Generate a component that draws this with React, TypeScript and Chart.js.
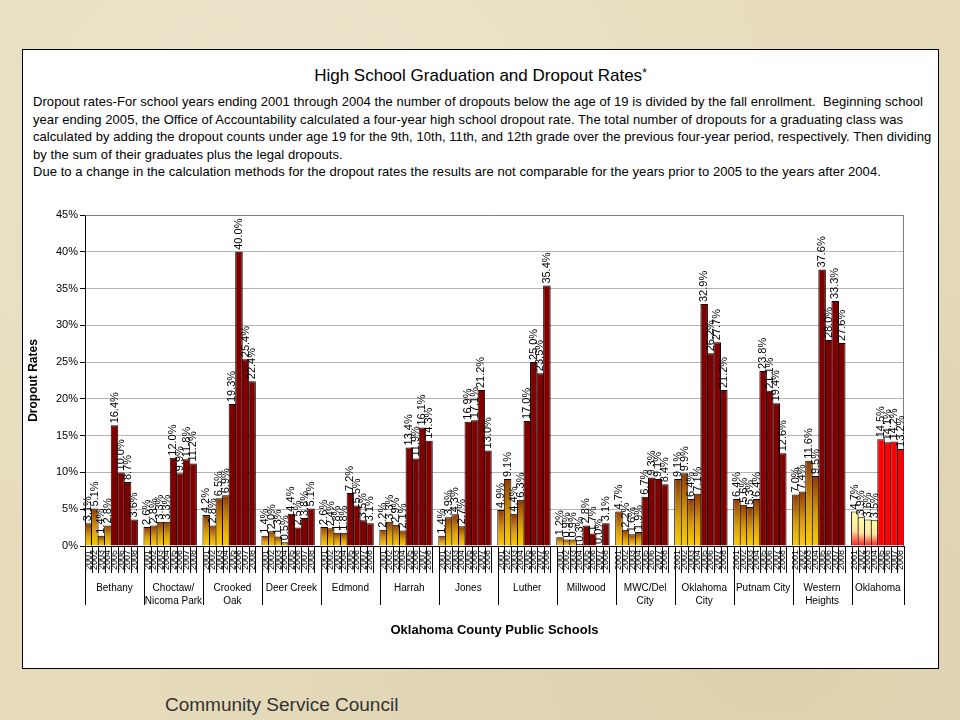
import React, { useEffect, useRef } from "react";
import { Chart, registerables } from "chart.js";

Chart.register(...registerables);

const FONT = 'Arial, "Liberation Sans", sans-serif';

// ---- data ----
const years = ["2001", "2002", "2003", "2004", "2005", "2006", "2007", "2008"];
const schoolNames: string[][] = [
  ["Bethany"],
  ["Choctaw/", "Nicoma Park"],
  ["Crooked", "Oak"],
  ["Deer Creek"],
  ["Edmond"],
  ["Harrah"],
  ["Jones"],
  ["Luther"],
  ["Millwood"],
  ["MWC/Del", "City"],
  ["Oklahoma", "City"],
  ["Putnam City"],
  ["Western", "Heights"],
  ["Oklahoma"],
];
const bethany = [3.1, 5.1, 1.4, 2.8, 16.4, 10.0, 8.7, 3.6];
const choctawNicomaPark = [2.6, 2.8, 3.3, 3.3, 12.0, 9.9, 11.8, 11.2];
const crookedOak = [4.2, 2.8, 6.5, 6.9, 19.3, 40.0, 25.4, 22.4];
const deerCreek = [1.4, 2.0, 1.3, 0.5, 4.4, 2.5, 3.8, 5.1];
const edmond = [2.6, 2.4, 1.8, 1.8, 7.2, 5.5, 3.5, 3.1];
const harrah = [2.2, 3.3, 2.9, 2.1, 13.4, 11.9, 16.1, 14.3];
const jones = [1.4, 3.9, 4.3, 2.7, 16.9, 17.1, 21.2, 13.0];
const luther = [4.9, 9.1, 4.4, 6.3, 17.0, 25.0, 23.5, 35.4];
const millwood = [1.2, 0.9, 0.9, 0.3, 2.8, 1.7, 0.0, 3.1];
const mwcDelCity = [4.7, 2.2, 1.6, 1.9, 6.7, 9.3, 9.1, 8.4];
const oklahomaCity = [9.1, 9.9, 6.4, 7.1, 32.9, 26.2, 27.7, 21.2];
const putnamCity = [6.4, 5.6, 5.3, 6.4, 23.8, 21.1, 19.4, 12.6];
const westernHeights = [7.0, 7.4, 11.6, 9.5, 37.6, 28.0, 33.3, 27.6];
const oklahomaState = [4.7, 3.9, 3.6, 3.5, 14.5, 14.1, 14.2, 13.2];
const yTicks = [0, 5, 10, 15, 20, 25, 30, 35, 40, 45];

const schoolValues = [
  bethany, choctawNicomaPark, crookedOak, deerCreek, edmond, harrah, jones,
  luther, millwood, mwcDelCity, oklahomaCity, putnamCity, westernHeights, oklahomaState,
];

// slots: 8 years per school + one blank slot between schools
const slotLabels: string[] = [];
const slotValues: (number | null)[] = [];
const slotSchool: number[] = [];
const slotYear: number[] = [];
const groupStart: number[] = [];
schoolValues.forEach((vals, s) => {
  groupStart.push(slotLabels.length);
  vals.forEach((v, y) => {
    slotLabels.push(years[y]);
    slotValues.push(v);
    slotSchool.push(s);
    slotYear.push(y);
  });
  if (s < schoolValues.length - 1) {
    slotLabels.push("");
    slotValues.push(null);
    slotSchool.push(s);
    slotYear.push(-1);
  }
});

const STATE = schoolValues.length - 1;

function barColor(ctx: any) {
  const i = ctx.dataIndex;
  const s = slotSchool[i];
  const y = slotYear[i];
  const v = slotValues[i];
  const late = y >= 4;
  if (late) return s === STATE ? "#ff0000" : "#800000";
  const chart = ctx.chart;
  const ys = chart.scales && chart.scales.y;
  if (!chart.chartArea || !ys || v == null) return s === STATE ? "#ffff99" : "#e0a000";
  const y0 = ys.getPixelForValue(0);
  const y1 = ys.getPixelForValue(v);
  const g = chart.ctx.createLinearGradient(0, y0, 0, Math.min(y1, y0 - 1));
  if (s === STATE) {
    g.addColorStop(0, "#ff1a1a");
    g.addColorStop(0.45, "#ffe4a0");
    g.addColorStop(1, "#ffffa0");
  } else {
    g.addColorStop(0, "#ffcc00");
    g.addColorStop(0.45, "#d99c08");
    g.addColorStop(1, "#8f3a06");
  }
  return g;
}

const plotBorder = {
  id: "plotBorder",
  beforeDatasetsDraw(chart: any) {
    const { ctx, chartArea } = chart;
    const { left, top, right, bottom } = chartArea;
    ctx.save();
    ctx.strokeStyle = "#808080";
    ctx.lineWidth = 1;
    ctx.beginPath();
    ctx.moveTo(left, Math.round(top) + 0.5);
    ctx.lineTo(Math.round(right) - 0.5, Math.round(top) + 0.5);
    ctx.lineTo(Math.round(right) - 0.5, bottom);
    ctx.stroke();
    ctx.restore();
  },
};

const valueLabels = {
  id: "valueLabels",
  afterDatasetsDraw(chart: any) {
    const { ctx } = chart;
    const meta = chart.getDatasetMeta(0);
    ctx.save();
    ctx.fillStyle = "#000";
    ctx.font = `11px ${FONT}`;
    ctx.textAlign = "left";
    ctx.textBaseline = "middle";
    meta.data.forEach((el: any, i: number) => {
      const v = slotValues[i];
      if (v == null) return;
      ctx.save();
      ctx.translate(el.x, el.y - 2);
      ctx.rotate(-Math.PI / 2);
      ctx.fillText(v.toFixed(1) + "%", 0, 0);
      ctx.restore();
    });
    ctx.restore();
  },
};

const groupAxis = {
  id: "groupAxis",
  afterDraw(chart: any) {
    const { ctx, chartArea } = chart;
    const x = chart.scales.x;
    const slot = x.getPixelForValue(1) - x.getPixelForValue(0);
    const b = chartArea.bottom;
    ctx.save();
    ctx.strokeStyle = "#000";
    ctx.lineWidth = 1;
    ctx.beginPath();
    for (let i = 0; i <= slotLabels.length; i++) {
      const xx = Math.round(x.getPixelForValue(0) - slot / 2 + i * slot) + 0.5;
      ctx.moveTo(xx, b);
      ctx.lineTo(xx, b + 27);
    }
    const bounds: number[] = groupStart.map((st) => x.getPixelForValue(st) - slot / 2);
    bounds.push(chartArea.right);
    bounds.forEach((bx) => {
      const xx = Math.round(bx) + 0.5;
      ctx.moveTo(xx, b);
      ctx.lineTo(xx, b + 59);
    });
    ctx.stroke();
    ctx.fillStyle = "#000";
    ctx.font = `10px ${FONT}`;
    ctx.textAlign = "center";
    ctx.textBaseline = "middle";
    schoolNames.forEach((lines, g) => {
      const cx = (bounds[g] + bounds[g + 1]) / 2;
      lines.forEach((ln, k) => ctx.fillText(ln, cx, b + 42 + k * 13));
    });
    ctx.restore();
  },
};

export default function App() {
  const ref = useRef<HTMLCanvasElement>(null);
  useEffect(() => {
    const chart = new Chart(ref.current as HTMLCanvasElement, {
      type: "bar",
      data: {
        labels: slotLabels,
        datasets: [
          {
            data: slotValues as any,
            backgroundColor: barColor as any,
            borderColor: "#000",
            borderWidth: 1,
            barPercentage: 1.15,
            categoryPercentage: 1,
          },
        ],
      },
      options: {
        responsive: false,
        animation: false,
        devicePixelRatio: 1,
        layout: { padding: { top: 20, right: 34, left: 0, bottom: 0 } },
        plugins: { legend: { display: false }, tooltip: { enabled: false }, title: { display: false } },
        scales: {
          x: {
            type: "category",
            offset: true,
            grid: { display: false, drawTicks: false },
            border: { display: true, color: "#000", width: 1 },
            ticks: {
              autoSkip: false,
              minRotation: 90,
              maxRotation: 90,
              padding: 4,
              color: "#000",
              font: { family: FONT, size: 9 },
            },
            title: {
              display: true,
              text: "Oklahoma County Public Schools",
              color: "#000",
              font: { family: FONT, size: 13, weight: "bold" },
              padding: { top: 0, bottom: 17 },
            },
            afterFit: (s: any) => {
              s.height = 109;
            },
          },
          y: {
            min: 0,
            max: 45,
            afterBuildTicks: (s: any) => {
              s.ticks = yTicks.map((v) => ({ value: v }));
            },
            grid: { color: "#b4b4b4", tickColor: "#000", tickLength: 5 },
            border: { display: true, color: "#000", width: 1 },
            ticks: {
              padding: 2,
              color: "#000",
              font: { family: FONT, size: 11 },
              callback: (v: any) => v + "%",
            },
            title: {
              display: true,
              text: "Dropout Rates",
              color: "#000",
              font: { family: FONT, size: 12, weight: "bold" },
              padding: { top: 4, bottom: 0 },
            },
            afterFit: (s: any) => {
              s.width = 63;
            },
          },
        },
      },
      plugins: [plotBorder, valueLabels, groupAxis],
    });
    return () => chart.destroy();
  }, []);

  const para = [
    "Dropout rates-For school years ending 2001 through 2004 the number of dropouts below the age of 19 is divided by the fall enrollment.  Beginning school",
    "year ending 2005, the Office of Accountability calculated a four-year high school dropout rate. The total number of dropouts for a graduating class was",
    "calculated by adding the dropout counts under age 19 for the 9th, 10th, 11th, and 12th grade over the previous four-year period, respectively. Then dividing",
    "by the sum of their graduates plus the legal dropouts.",
    "Due to a change in the calculation methods for the dropout rates the results are not comparable for the years prior to 2005 to the years after 2004.",
  ];

  return (
    <div
      style={{
        position: "absolute",
        left: 0,
        top: 0,
        width: 960,
        height: 720,
        overflow: "hidden",
        background:
          "radial-gradient(ellipse at 30% 20%, rgba(255,255,255,0.25), rgba(0,0,0,0) 60%), radial-gradient(ellipse at 80% 90%, rgba(150,120,60,0.12), rgba(0,0,0,0) 60%), #e6dcbc",
        fontFamily: FONT,
      }}
    >
      <div
        style={{
          position: "absolute",
          left: 22,
          top: 49,
          width: 917,
          height: 620,
          boxSizing: "border-box",
          border: "1px solid #000",
          background: "#fff",
        }}
      />
      <div
        style={{
          position: "absolute",
          left: 22,
          top: 66,
          width: 917,
          textAlign: "center",
          fontSize: 17,
          lineHeight: "20px",
          color: "#000",
        }}
      >
        High School Graduation and Dropout Rates
        <span style={{ fontSize: 12, verticalAlign: "top", position: "relative", top: -3 }}>*</span>
      </div>
      <div
        style={{
          position: "absolute",
          left: 33,
          top: 93,
          fontSize: 13,
          letterSpacing: "0.06px",
          lineHeight: "17.6px",
          color: "#000",
          whiteSpace: "pre",
        }}
      >
        {para.map((p, i) => (
          <div key={i}>{p}</div>
        ))}
      </div>
      <canvas
        ref={ref}
        width={916}
        height={460}
        style={{ position: "absolute", left: 22, top: 195, width: 916, height: 460 }}
      />
      <div
        style={{
          position: "absolute",
          left: 165,
          top: 694,
          fontSize: 19,
          lineHeight: "22px",
          color: "#333",
          whiteSpace: "nowrap",
        }}
      >
        Community Service Council
      </div>
    </div>
  );
}
